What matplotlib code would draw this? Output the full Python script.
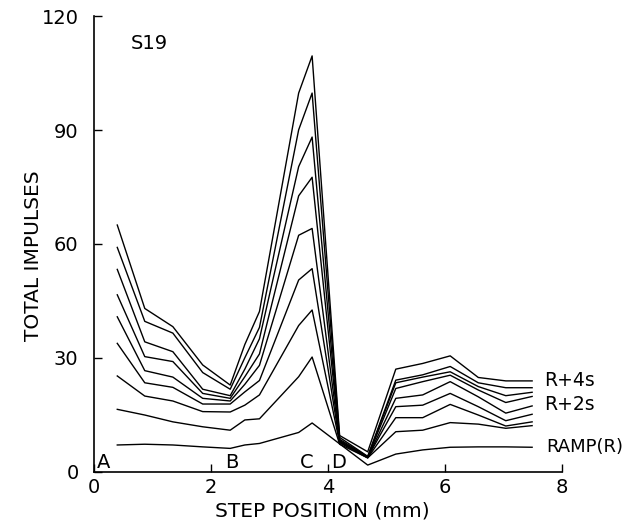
import matplotlib
matplotlib.use("Agg")
import matplotlib.pyplot as plt

# step positions (mm) where the impulse counts were taken
step_mm = [0.40, 0.87, 1.35, 1.86, 2.33, 2.58, 2.83, 3.50, 3.73,
           4.20, 4.68, 5.16, 5.62, 6.09, 6.57, 7.04, 7.49]

# total impulses, ramp only and then ramp plus 0.5 s ... 4 s
ramp = [7.0, 7.2, 7.0, 6.5, 6.1, 7.0, 7.4, 10.3, 12.8,
        7.3, 1.7, 4.6, 5.7, 6.4, 6.5, 6.5, 6.4]
r_05 = [16.4, 14.9, 13.1, 11.8, 10.9, 13.6, 13.9, 25.0, 30.2,
        7.2, 3.6, 10.5, 10.9, 12.9, 12.5, 11.4, 12.1]
r_10 = [25.2, 19.9, 18.6, 15.8, 15.7, 17.5, 20.2, 38.5, 42.6,
        7.6, 3.6, 14.2, 14.2, 17.7, 14.9, 12.0, 13.1]
r_15 = [33.8, 23.4, 22.2, 17.8, 17.8, 21.0, 24.0, 50.5, 53.5,
        7.8, 3.7, 17.1, 17.5, 20.6, 17.1, 13.4, 15.1]
r_20 = [40.8, 26.6, 24.9, 19.3, 18.6, 23.0, 28.0, 62.3, 64.1,
        8.0, 3.7, 19.3, 20.2, 23.7, 19.7, 15.4, 17.3]
r_25 = [46.6, 30.3, 29.0, 20.6, 19.3, 25.0, 31.0, 72.7, 77.6,
        8.2, 3.8, 21.9, 23.7, 25.4, 21.5, 18.2, 19.8]
r_30 = [53.3, 34.2, 31.6, 21.7, 20.0, 27.0, 35.0, 80.4, 88.2,
        8.5, 3.9, 23.4, 24.9, 26.3, 22.4, 20.0, 20.9]
r_35 = [59.1, 39.6, 36.5, 26.1, 21.7, 30.0, 38.0, 90.1, 99.8,
        9.0, 4.0, 24.1, 25.5, 27.7, 23.4, 22.1, 22.1]
r_40 = [65.0, 43.0, 38.2, 28.1, 22.8, 33.5, 42.2, 99.8, 109.6,
        9.5, 5.2, 27.0, 28.5, 30.5, 24.8, 23.9, 23.9]

curves = [ramp, r_05, r_10, r_15, r_20, r_25, r_30, r_35, r_40]

site_labels = ["A", "B", "C", "D"]
site_x = [0.17, 2.36, 3.64, 4.19]

plt.rcParams["font.family"] = ["DejaVu Sans"]

fig = plt.figure(figsize=(6.3, 5.31), dpi=100)
ax = fig.add_axes([0.149, 0.112, 0.743, 0.857])

for y in curves:
    ax.plot(step_mm, y, color="black", linewidth=1.0)

ax.set_xlim(0, 8)
ax.set_ylim(0, 120)
ax.set_xticks([0, 2, 4, 6, 8])
ax.set_yticks([0, 30, 60, 90, 120])
ax.tick_params(direction="in", length=6, width=1.0, labelsize=14)
ax.tick_params(axis="y", pad=11)
ax.tick_params(axis="x", pad=5)
ax.spines["top"].set_visible(False)
ax.spines["right"].set_visible(False)
ax.spines["left"].set_linewidth(1.2)
ax.spines["bottom"].set_linewidth(1.2)

ax.set_xlabel("STEP POSITION (mm)", fontsize=14.5)
ax.set_ylabel("TOTAL IMPULSES", fontsize=14.5)
ax.xaxis.set_label_coords(0.487, -0.066)
ax.yaxis.set_label_coords(-0.108, 0.474)

ax.text(0.95, 113, "S19", fontsize=14, ha="center", va="center")
for lab, x in zip(site_labels, site_x):
    ax.text(x, 2.5, lab, fontsize=14, ha="center", va="center")

ax.text(7.69, r_40[-1], "R+4s", fontsize=13.5, ha="left", va="center", clip_on=False)
ax.text(7.69, 17.8, "R+2s", fontsize=13.5, ha="left", va="center", clip_on=False)
ax.text(7.74, ramp[-1], "RAMP(R)", fontsize=13, ha="left", va="center", clip_on=False)

fig.savefig("out.png", dpi=100)
